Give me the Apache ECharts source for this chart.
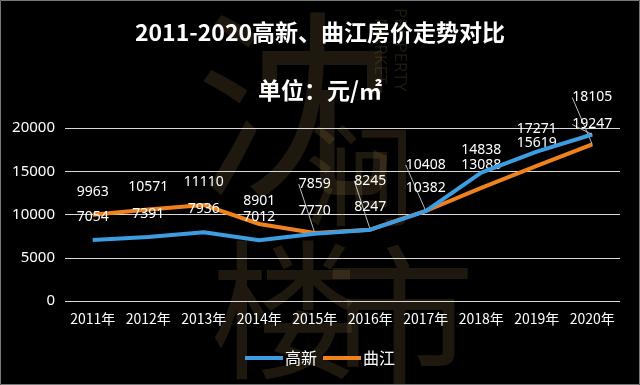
<!DOCTYPE html>
<html><head><meta charset="utf-8">
<script src="https://cdn.jsdelivr.net/npm/echarts@6/dist/echarts.min.js"></script>
<style>html,body{margin:0;padding:0;background:#000;}#c{width:640px;height:385px;}</style>
</head><body><div id="c"></div>
<script>
const categories = ['2011年','2012年','2013年','2014年','2015年','2016年','2017年','2018年','2019年','2020年'];
const gaoxin = [7054, 7391, 7936, 7012, 7770, 8247, 10382, 14838, 17271, 19247];
const qujiang = [9963, 10571, 11110, 8901, 7859, 8245, 10408, 13088, 15619, 18105];
const yTicks = {min: 0, max: 20000, interval: 5000};

// label adjustments (pixels, negative = up) – styling only
const labelShift = {
  0: {9: 13},
  1: {4: -26, 5: -26, 6: -23, 9: -24}
};

const chart = echarts.init(document.getElementById('c'));
const numFont = '"Noto Sans", sans-serif';
const cjk = '"Noto Sans CJK SC", sans-serif';
function mkData(arr, si){
  return arr.map((v,i)=>{
    const moved = labelShift[si][i] && Math.abs(labelShift[si][i]) > 12;
    return {value: v, labelLine: {show: !!moved}};
  });
}
const wm = 'rgba(150,120,70,0.2)';
chart.setOption({
  backgroundColor: '#000',
  animation: false,
  graphic: [
    {type:'rect', z:-10, shape:{x:0.5,y:0.5,width:639,height:384}, style:{fill:'none', stroke:'#777', lineWidth:1}},
    {type:'text', z:-5, silent:true, left:195, top:5, style:{text:'沈', font:'200px "Noto Sans CJK SC"', fill:wm}},
    {type:'text', z:-5, silent:true, left:305, top:120, style:{text:'涧', font:'110px "Noto Sans CJK SC"', fill:wm}},
    {type:'text', z:-5, silent:true, left:210, top:235, style:{text:'楼', font:'150px "Noto Sans CJK SC"', fill:wm}},
    {type:'text', z:-5, silent:true, left:325, top:240, style:{text:'市', font:'150px "Noto Sans CJK SC"', fill:wm}},
    {type:'text', z:-5, silent:true, x:408, y:8, rotation:-Math.PI/2, style:{text:'PROPERTY', font:'17px "Noto Sans"', fill:wm}},
    {type:'text', z:-5, silent:true, x:388, y:18, rotation:-Math.PI/2, style:{text:'MARKET', font:'17px "Noto Sans"', fill:wm}}
  ],
  title: [
    {text:'2011-2020高新、曲江房价走势对比', left:'center', top:16,
     textStyle:{color:'#fff', fontSize:23, fontWeight:'bold', fontFamily:cjk}},
    {text:'单位：元/㎡', left:'center', top:74,
     textStyle:{color:'#fff', fontSize:23, fontWeight:'bold', fontFamily:cjk}}
  ],
  legend: {
    bottom: 14, left:'center', icon:'rect', itemWidth:38, itemHeight:4, itemGap:6,
    textStyle:{color:'#fff', fontSize:16, fontFamily:cjk, padding:[0,0,0,-3]},
    data:['高新','曲江']
  },
  grid: {left:65, right:20, top:128, bottom:84, containLabel:false},
  xAxis: {
    type:'category', data:categories, boundaryGap:true,
    axisLine:{show:false}, axisTick:{show:false},
    axisLabel:{color:'#fff', fontSize:14, fontFamily:cjk, margin:11, interval:0}
  },
  yAxis: {
    type:'value', min:yTicks.min, max:yTicks.max, interval:yTicks.interval,
    axisLine:{show:false}, axisTick:{show:false},
    axisLabel:{color:'#fff', fontSize:15, fontFamily:numFont, margin:10, formatter:(v)=>String(v)},
    splitLine:{lineStyle:{color:'#d9d9d9', width:1}}
  },
  series: [
    {name:'高新', type:'line', data:mkData(gaoxin,0), color:'#3d9de2',
     lineStyle:{width:4, color:'#3d9de2'}, symbol:'circle', symbolSize:0, showSymbol:true,
     label:{show:true, position:'top', distance:16, color:'#fff', fontSize:14, fontFamily:numFont},
     labelLine:{lineStyle:{color:'#bbb', width:1}},
     labelLayout:(p)=>({dy: labelShift[0][p.dataIndex]||0}), z:3},
    {name:'曲江', type:'line', data:mkData(qujiang,1), color:'#f0821e',
     lineStyle:{width:4, color:'#f0821e'}, symbol:'circle', symbolSize:0, showSymbol:true,
     label:{show:true, position:'top', distance:16, color:'#fff', fontSize:14, fontFamily:numFont},
     labelLine:{lineStyle:{color:'#bbb', width:1}},
     labelLayout:(p)=>({dy: labelShift[1][p.dataIndex]||0}), z:2}
  ]
});
</script></body></html>
